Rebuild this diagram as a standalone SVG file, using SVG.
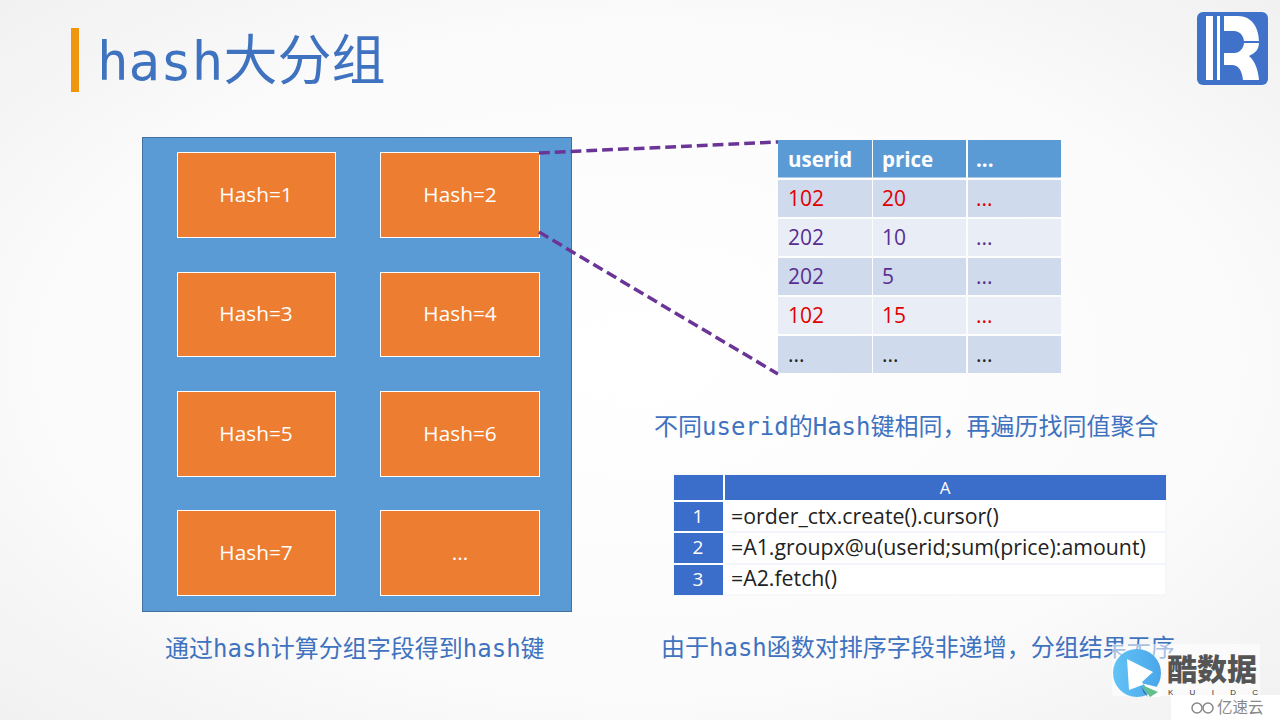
<svg xmlns="http://www.w3.org/2000/svg" width="1280" height="720" viewBox="0 0 1280 720">
<style>
.mono{font-family:"DejaVu Sans Mono","Noto Sans CJK SC",monospace}
.cap{font-size:24px;fill:#3f72bf}
.sans{font-family:"Open Sans","Noto Sans CJK SC",sans-serif}
.box{fill:#ed7d31;stroke:#fff;stroke-width:1}
.bl{font-size:20.800px;fill:#fff;text-anchor:middle}
.th{fill:#5b9bd5}.r1{fill:#cfdaec}.r2{fill:#e9edf6}
.tt{font-size:21px}
.h{fill:#fff;font-weight:700;font-size:20.500px}.red{fill:#e00000}.pur{fill:#5a2d91}.blk{fill:#222}
.idx{fill:#3b6ecb}
.c{font-size:21.300px;fill:#222}
.n{font-size:19px;fill:#fff;text-anchor:middle}
.dash{fill:none;stroke:#6a3596;stroke-width:3.500;stroke-dasharray:10.800 5}
</style>
<defs>
<radialGradient id="bg" cx="50%" cy="50%" r="75%"><stop offset="0" stop-color="#ffffff"/><stop offset="0.6" stop-color="#fbfbfb"/><stop offset="1" stop-color="#efefef"/></radialGradient>
<linearGradient id="play" x1="0" y1="0" x2="1" y2="0"><stop offset="0" stop-color="#62c3f5"/><stop offset="1" stop-color="#4aa6ea"/></linearGradient>
</defs>
<rect width="1280" height="720" fill="url(#bg)"/>
<rect x="71" y="28" width="8" height="64" fill="#f0950e"/>
<text class="mono" x="97" y="80" font-size="52.500" fill="#3f72bf">hash<tspan font-size="54" font-family="Noto Sans CJK SC,sans-serif">大分组</tspan></text>
<g id="logo">
<rect x="1197" y="12" width="71" height="73" rx="6" fill="#3f72c8"/>
<rect x="1206" y="16" width="7" height="64" fill="#fff"/>
<rect x="1217" y="16" width="3" height="64" fill="#fff"/>
<path d="M1224 16H1238C1252 16 1259 28 1259 42C1259 50 1255 53 1249 56C1254 60 1258 68 1259 80H1243C1242 70 1238 65 1232 65H1224V53H1234C1240 53 1244 48 1244 42C1244 36 1240 31 1234 31H1224Z" fill="#fff"/>
<rect x="1243" y="41" width="17" height="2" fill="#3f72c8"/>
</g>
<g id="container"><rect x="142.500" y="137.500" width="429" height="474" fill="#5b9bd5" stroke="#41719c"/></g>
<g id="hash1"><rect class="box" x="177.500" y="152.500" width="158" height="85"/><text class="sans bl" x="256" y="202">Hash=1</text></g>
<g id="hash2"><rect class="box" x="380.500" y="152.500" width="159" height="85"/><text class="sans bl" x="460" y="202">Hash=2</text></g>
<g id="hash3"><rect class="box" x="177.500" y="272.500" width="158" height="84"/><text class="sans bl" x="256" y="321">Hash=3</text></g>
<g id="hash4"><rect class="box" x="380.500" y="272.500" width="159" height="84"/><text class="sans bl" x="460" y="321">Hash=4</text></g>
<g id="hash5"><rect class="box" x="177.500" y="391.500" width="158" height="85"/><text class="sans bl" x="256" y="441">Hash=5</text></g>
<g id="hash6"><rect class="box" x="380.500" y="391.500" width="159" height="85"/><text class="sans bl" x="460" y="441">Hash=6</text></g>
<g id="hash7"><rect class="box" x="177.500" y="510.500" width="158" height="85"/><text class="sans bl" x="256" y="560">Hash=7</text></g>
<g id="hash8"><rect class="box" x="380.500" y="510.500" width="159" height="85"/><text class="sans bl" x="460" y="560">...</text></g>
<g id="connectors">
<path class="dash" d="M539 153L778 142"/>
<path class="dash" d="M539 232L778 374"/>
</g>
<g id="data-table" class="sans tt">
<rect class="th" x="778" y="140" width="94" height="37.500"/><rect class="th" x="873" y="140" width="93" height="37.500"/><rect class="th" x="968" y="140" width="93" height="37.500"/>
<rect class="r1" x="778" y="180" width="94" height="37"/><rect class="r1" x="873" y="180" width="93" height="37"/><rect class="r1" x="968" y="180" width="93" height="37"/>
<rect class="r2" x="778" y="219" width="94" height="37"/><rect class="r2" x="873" y="219" width="93" height="37"/><rect class="r2" x="968" y="219" width="93" height="37"/>
<rect class="r1" x="778" y="258" width="94" height="37"/><rect class="r1" x="873" y="258" width="93" height="37"/><rect class="r1" x="968" y="258" width="93" height="37"/>
<rect class="r2" x="778" y="297" width="94" height="37"/><rect class="r2" x="873" y="297" width="93" height="37"/><rect class="r2" x="968" y="297" width="93" height="37"/>
<rect class="r1" x="778" y="336" width="94" height="37"/><rect class="r1" x="873" y="336" width="93" height="37"/><rect class="r1" x="968" y="336" width="93" height="37"/>
<text class="h" x="788" y="167">userid</text><text class="h" x="882" y="167">price</text><text class="h" x="976" y="167">...</text>
<text class="red" x="788" y="206">102</text><text class="red" x="882" y="206">20</text><text class="red" x="976" y="206">...</text>
<text class="pur" x="788" y="245">202</text><text class="pur" x="882" y="245">10</text><text class="pur" x="976" y="245">...</text>
<text class="pur" x="788" y="284">202</text><text class="pur" x="882" y="284">5</text><text class="pur" x="976" y="284">...</text>
<text class="red" x="788" y="323">102</text><text class="red" x="882" y="323">15</text><text class="red" x="976" y="323">...</text>
<text class="blk" x="788" y="362">...</text><text class="blk" x="882" y="362">...</text><text class="blk" x="976" y="362">...</text>
</g>
<text class="mono cap" x="654" y="435">不同userid的Hash键相同，再遍历找同值聚合</text>
<g id="code-table" class="sans">
<rect x="674" y="475" width="492" height="120" fill="#fff" stroke="#eef1f6"/>
<rect class="idx" x="674" y="475" width="49" height="25"/><rect class="idx" x="725" y="475" width="441" height="25"/>
<rect class="idx" x="674" y="502" width="49" height="29"/><rect class="idx" x="674" y="533" width="49" height="30"/><rect class="idx" x="674" y="565" width="49" height="30"/>
<path d="M725 532H1166M725 564H1166" stroke="#e6ebf3"/>
<text class="n" x="945" y="494" style="font-size:17px">A</text>
<text class="n" x="698" y="523">1</text><text class="n" x="698" y="554">2</text><text class="n" x="698" y="586">3</text>
<text class="c" x="731" y="524">=order_ctx.create().cursor()</text>
<text class="c" x="731" y="555">=A1.groupx@u(userid;sum(price):amount)</text>
<text class="c" x="731" y="586">=A2.fetch()</text>
</g>
<text class="mono cap" x="165" y="657">通过hash计算分组字段得到hash键</text>
<text class="mono cap" x="661" y="656">由于hash函数对排序字段非递增，分组结果无序</text>
<g id="watermark">
<rect x="1112" y="644" width="148" height="52" fill="#fff" fill-opacity="0.55"/>
<rect x="1171" y="695" width="109" height="25" fill="#fff"/>
<circle cx="1137" cy="673" r="24" fill="url(#play)"/>
<path d="M1127 659L1153 672L1142 682L1153 697L1160 697L1161 688L1145 684L1129 690Z" fill="#fff"/>
<path d="M1142 685L1158 692L1150 697Z" fill="#5fc08a"/>
<path d="M1141 686L1148 697L1144 693Z" fill="#3b5f8a"/>
<text x="1167" y="680" font-family="Noto Sans CJK SC,sans-serif" font-weight="900" font-size="30" fill="#555">酷数据</text>
<text x="1168" y="695" font-family="Liberation Sans,sans-serif" font-size="8" fill="#333" textLength="90">K U I D C</text>
<circle cx="1197" cy="708" r="5" fill="none" stroke="#888" stroke-width="1.500"/><circle cx="1208" cy="708" r="5" fill="none" stroke="#888" stroke-width="1.500"/>
<text x="1217" y="713" font-family="Noto Sans CJK SC,sans-serif" font-size="15.500" fill="#888">亿速云</text>
</g>
</svg>
